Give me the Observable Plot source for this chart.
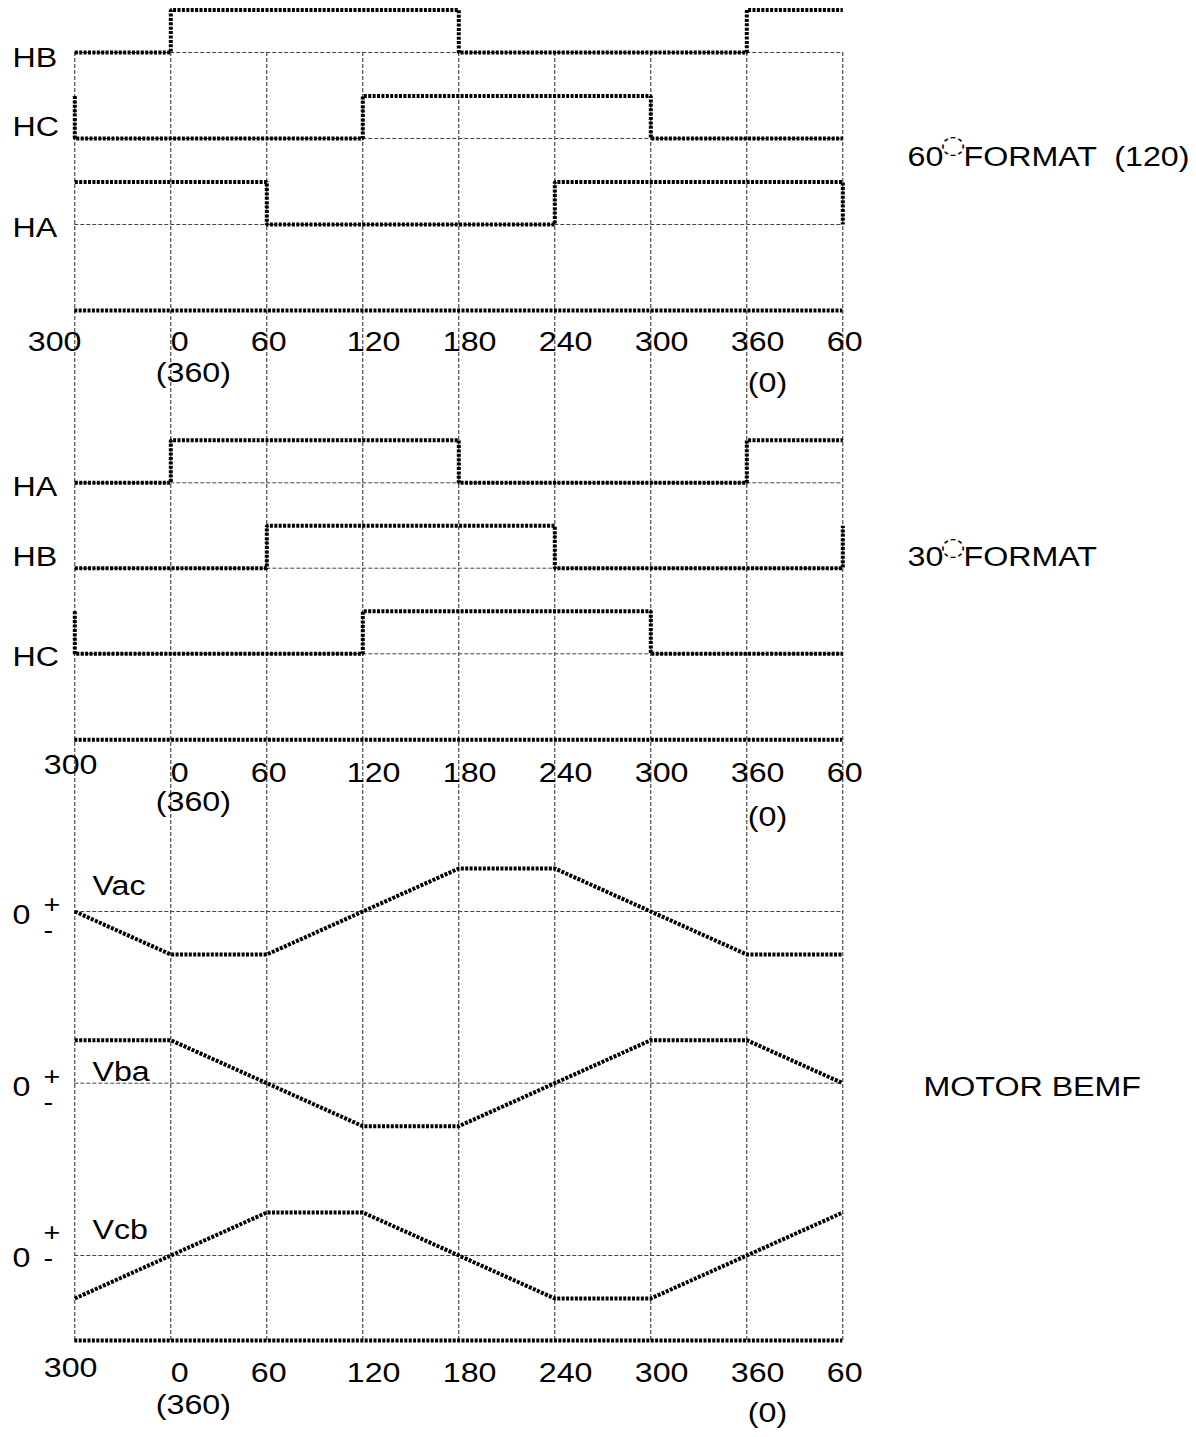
<!DOCTYPE html>
<html>
<head>
<meta charset="utf-8">
<script src="https://cdn.jsdelivr.net/npm/d3@7"></script>
<script src="https://cdn.jsdelivr.net/npm/@observablehq/plot@0.6"></script>
<style>
  html, body { margin: 0; padding: 0; background: #fff; }
  #chart svg { display: block; }
</style>
</head>
<body>
<div id="chart"></div>
<script>
// ---------------- data ----------------
const angles      = [-60, 0, 60, 120, 180, 240, 300, 360, 420];
const angleLabels = ["300", "0", "60", "120", "180", "240", "300", "360", "60"];
const wrapLabels  = ["", "(360)", "", "", "", "", "", "(0)", ""];
const sectorStarts = [-60, 0, 60, 120, 180, 240, 300, 360];

// Hall sensor states: [state before 300°, 8 sector states, state after the last 60°]
const ha60 = [1, 1, 1, 0, 0, 0, 1, 1, 1, 0];
const hb60 = [0, 0, 1, 1, 1, 0, 0, 0, 1, 1];
const hc60 = [1, 0, 0, 0, 1, 1, 1, 0, 0, 0];
const ha30 = [0, 0, 1, 1, 1, 0, 0, 0, 1, 1];
const hb30 = [0, 0, 0, 1, 1, 1, 0, 0, 0, 1];
const hc30 = [1, 0, 0, 0, 1, 1, 1, 0, 0, 0];

// Motor BEMF (normalised) at each angle
const vac = [0, -1, -1, 0, 1, 1, 0, -1, -1];
const vba = [1, 1, 0, -1, -1, 0, 1, 1, 0];
const vcb = [-1, 0, 1, 1, 0, -1, -1, 0, 1];

// Right-hand captions
const captions = ["60", "FORMAT  (120)", "30", "FORMAT", "MOTOR BEMF"];
const degreeMark = "◌";
const signMark = "+\n-";

// ---------------- layout (pixels) ----------------
const W = 1196, H = 1437;
const X_LEFT = 74.3, X_RIGHT = 842.3;
const HALL_AMP = 42.5, BEMF_AMP = 43;
const GRID_TOP = 52, GRID_BOTTOM = 1340;
const STRETCH = 1.15;

const hallTraces = [
  {name: "HB", states: hb60, base: 52,    ly: 58},
  {name: "HC", states: hc60, base: 138,   ly: 127},
  {name: "HA", states: ha60, base: 224,   ly: 228},
  {name: "HA", states: ha30, base: 482.3, ly: 486.7},
  {name: "HB", states: hb30, base: 567.7, ly: 556.7},
  {name: "HC", states: hc30, base: 653.3, ly: 656.7}
];
const bemfTraces = [
  {name: "Vac", values: vac, base: 911,    zy: 915,  sy: 917,  ny: 886},
  {name: "Vba", values: vba, base: 1082.7, zy: 1087, sy: 1089, ny: 1072},
  {name: "Vcb", values: vcb, base: 1255,   zy: 1258, sy: 1245, ny: 1230}
];
const tickRows = [
  {axis: 310,    row: 342,  left: 341.7, leftDx: -47, sub360: 373,  sub0: 383},
  {axis: 739.3,  row: 773,  left: 765,   leftDx: -31, sub360: 802,  sub0: 817},
  {axis: 1340,   row: 1373, left: 1368,  leftDx: -31, sub360: 1405, sub0: 1413}
];

// ---------------- build mark data ----------------
const hallPts = [];
hallTraces.forEach((t, k) => {
  const yOf = s => t.base - s * HALL_AMP;
  hallPts.push({a: -60, y: yOf(t.states[0]), k});
  sectorStarts.forEach((a, i) => hallPts.push({a, y: yOf(t.states[i + 1]), k}));
  hallPts.push({a: 420, y: yOf(t.states[8]), k});
  hallPts.push({a: 420, y: yOf(t.states[9]), k});
});
const bemfPts = [];
bemfTraces.forEach((t, k) => {
  angles.forEach((a, i) => bemfPts.push({a, y: t.base - t.values[i] * BEMF_AMP, k}));
});

const dotted = {stroke: "black", strokeWidth: 4, strokeDasharray: "3,1.4", strokeLinecap: "butt", strokeLinejoin: "miter"};
const gridV = {stroke: "#222", strokeWidth: 1, strokeDasharray: "4,2"};
const gridH = {stroke: "#444", strokeWidth: 1, strokeDasharray: "4,2"};
const T = (data, opts) => Plot.text(data, {fontSize: 28, textAnchor: "start", lineAnchor: "middle", fill: "black", ...opts});

const marks = [];
// grid
marks.push(Plot.ruleX(angles, {x: d => d, y1: GRID_TOP, y2: GRID_BOTTOM, ...gridV}));
marks.push(Plot.ruleY([...hallTraces.map(t => t.base), ...bemfTraces.map(t => t.base)],
  {y: d => d, x1: -60, x2: 420, ...gridH}));
// axis baselines
marks.push(Plot.ruleY(tickRows.map(r => r.axis), {y: d => d, x1: -60, x2: 420, ...dotted}));
// waveforms
marks.push(Plot.line(hallPts, {x: "a", y: "y", z: "k", curve: "step-after", ...dotted}));
marks.push(Plot.line(bemfPts, {x: "a", y: "y", z: "k", curve: "linear", ...dotted}));

// tick labels
const tickIdx = angles.map((a, i) => i);
tickRows.forEach(r => {
  marks.push(T(tickIdx.filter(i => i === 0), {x: i => angles[i], y: r.left, text: i => angleLabels[i], dx: r.leftDx}));
  marks.push(T(tickIdx.filter(i => angles[i] === 0), {x: i => angles[i], y: r.row, text: i => angleLabels[i], dx: 0}));
  marks.push(T(tickIdx.filter(i => i > 0 && angles[i] !== 0), {x: i => angles[i], y: r.row, text: i => angleLabels[i], dx: -16}));
  marks.push(T(tickIdx.filter(i => wrapLabels[i] === "(360)"), {x: i => angles[i], y: r.sub360, text: i => wrapLabels[i], dx: -15}));
  marks.push(T(tickIdx.filter(i => wrapLabels[i] === "(0)"), {x: i => angles[i], y: r.sub0, text: i => wrapLabels[i], dx: 1}));
});

// trace labels
marks.push(T(hallTraces, {x: -60, y: "ly", text: "name", dx: 12 - X_LEFT}));
marks.push(T(bemfTraces, {x: -60, y: "zy", text: () => "0", dx: 12 - X_LEFT}));
marks.push(T(bemfTraces, {x: -60, y: "sy", text: () => signMark, dx: 43 - X_LEFT, fontSize: 25, lineHeight: 1.06}));
marks.push(T(bemfTraces, {x: -60, y: "ny", text: "name", dx: 92 - X_LEFT}));

// right captions
const rx = px => px - X_RIGHT;
marks.push(T([captions[0]], {x: 420, y: 157, text: d => d, dx: rx(907)}));
marks.push(T([degreeMark], {x: 420, y: 144, text: d => d, dx: rx(952.5), textAnchor: "middle", fontSize: 25, fontWeight: "bold", fontFamily: "DejaVu Sans"}));
marks.push(T([captions[1]], {x: 420, y: 157, text: d => d, dx: rx(963)}));
marks.push(T([captions[2]], {x: 420, y: 557, text: d => d, dx: rx(907)}));
marks.push(T([degreeMark], {x: 420, y: 546, text: d => d, dx: rx(952.5), textAnchor: "middle", fontSize: 25, fontWeight: "bold", fontFamily: "DejaVu Sans"}));
marks.push(T([captions[3]], {x: 420, y: 557, text: d => d, dx: rx(963)}));
marks.push(T([captions[4]], {x: 420, y: 1087, text: d => d, dx: rx(923)}));

const svg = Plot.plot({
  width: W,
  height: H,
  margin: 0,
  style: {background: "white", fontFamily: "'Liberation Sans', Arial, Helvetica, sans-serif", fontSize: "28px", color: "black"},
  x: {type: "linear", domain: [-60, 420], range: [X_LEFT, X_RIGHT], axis: null},
  y: {type: "linear", domain: [0, H], range: [0, H], axis: null},
  marks
});

// the original lettering is horizontally stretched
svg.querySelectorAll("text").forEach(t => {
  const tr = t.getAttribute("transform");
  if (tr) t.setAttribute("transform", tr + ` scale(${STRETCH},1)`);
});

document.getElementById("chart").appendChild(svg);
</script>
</body>
</html>
